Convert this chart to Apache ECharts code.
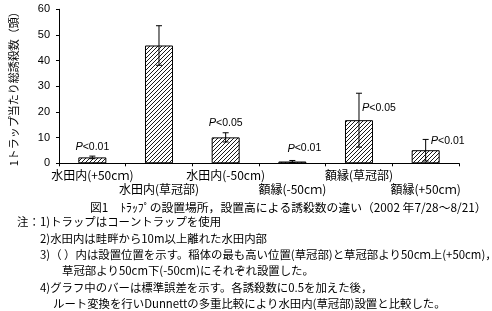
<!DOCTYPE html>
<html><head><meta charset="utf-8">
<script src="https://cdn.jsdelivr.net/npm/echarts@6/dist/echarts.min.js"></script>
<style>html,body{margin:0;padding:0;background:#fff}#c{width:492px;height:311px}</style>
</head><body><div id="c"></div>
<script>
const categories = ['水田内(+50cｍ)', '水田内(草冠部)', '水田内(-50cm)', '額縁(-50cｍ)', '額縁(草冠部)', '額縁(+50cｍ)'];
const means = [2.3, 45.9, 10.1, 0.7, 16.8, 5.1];
const stdErrors = [0.5, 7.7, 1.8, 0.4, 10.5, 4.2];
const pLabels = ['<0.01', '', '<0.05', '<0.01', '<0.05', '<0.01'];
const yTicks = [0, 10, 20, 30, 40, 50, 60];
const yTitle = '1トラップ当たり総誘殺数（頭）';
const caption = '図1　ﾄﾗｯﾌﾟの設置場所，設置高による誘殺数の違い（2002 年7/28～8/21）';
const notes = [
  '1)トラップはコーントラップを使用',
  '2)水田内は畦畔から10m以上離れた水田内部',
  '3)（ ）内は設置位置を示す。稲体の最も高い位置(草冠部)と草冠部より50cｍ上(+50cm)，',
  '草冠部より50cm下(-50cm)にそれぞれ設置した。',
  '4)グラフ中のバーは標準誤差を示す。各誘殺数に0.5を加えた後，',
  'ルート変換を行いDunnettの多重比較により水田内(草冠部)設置と比較した。'
];

// hatch pattern
const pc = document.createElement('canvas');
pc.width = 4; pc.height = 4;
const g = pc.getContext('2d');
g.fillStyle = '#fff'; g.fillRect(0, 0, 4, 4);
g.strokeStyle = '#000'; g.lineWidth = 0.9;
g.beginPath();
g.moveTo(-1, 5); g.lineTo(5, -1);
g.moveTo(-1, 1); g.lineTo(1, -1);
g.moveTo(3, 5); g.lineTo(5, 3);
g.stroke();

const CJK = "'Noto Sans CJK JP', sans-serif";
const LAT = "'Liberation Sans', Arial, sans-serif";
const chart = echarts.init(document.getElementById('c'), null, {renderer: 'canvas'});

// label placement (pixel offsets relative to top of error bar)
const labelPlace = [
  {dx: 0, dy: -9, align: 'center'},
  null,
  {dx: 0, dy: -10, align: 'center'},
  {dx: 12, dy: -12, align: 'center'},
  {dx: 3, dy: 15, align: 'left'},
  {dx: 5, dy: 2, align: 'left'}
];

const noteX = [40, 40, 40, 62, 40, 53];
const noteY = [221.7, 238.3, 255, 271, 287.7, 304];
const TF = '11.4px ' + CJK;
const graphics = [
  {type: 'text', style: {x: 90, y: 208, text: caption, font: '11.8px ' + CJK, fill: '#000', verticalAlign: 'middle'}},
  {type: 'text', style: {x: 17, y: noteY[0], text: '注：', font: TF, fill: '#000', verticalAlign: 'middle'}}
];
notes.forEach((t, i) => graphics.push({type: 'text', style: {x: noteX[i], y: noteY[i], text: t, font: TF, fill: '#000', verticalAlign: 'middle'}}));

chart.setOption({
  animation: false,
  backgroundColor: '#fff',
  grid: {left: 53, right: 33, top: 9.3, bottom: 147.7, containLabel: false},
  xAxis: {
    type: 'category', data: categories,
    axisLine: {lineStyle: {color: '#000', width: 1}},
    axisTick: {show: true, length: 3, lineStyle: {color: '#000'}},
    axisLabel: {
      interval: 0, margin: 5, color: '#000', fontFamily: CJK, fontSize: 12, lineHeight: 14,
      formatter: (v, i) => (i % 2 ? '\n' + v : v)
    }
  },
  yAxis: {
    type: 'value', min: 0, max: 60, interval: 10,
    name: yTitle, nameLocation: 'middle', nameRotate: 90, nameGap: 40,
    nameTextStyle: {fontFamily: CJK, fontSize: 11, color: '#000'},
    axisLine: {show: true, lineStyle: {color: '#000', width: 1}},
    axisTick: {show: true, length: 3, lineStyle: {color: '#000'}},
    axisLabel: {color: '#000', fontFamily: LAT, fontSize: 11, margin: 9,
      formatter: v => (yTicks.indexOf(v) >= 0 ? String(v) : '')},
    splitLine: {show: false}
  },
  series: [
    {
      type: 'bar', data: means, barWidth: '42%',
      itemStyle: {color: {image: pc, repeat: 'repeat'}, borderColor: '#000', borderWidth: 1},
      silent: true
    },
    {
      type: 'custom', silent: true,
      data: means.map((m, i) => [i, m, stdErrors[i]]),
      renderItem: (params, api) => {
        const i = api.value(0), m = api.value(1), e = api.value(2);
        const top = api.coord([i, m + e]);
        const bot = api.coord([i, Math.max(0, m - e)]);
        const hw = 3;
        const st = {stroke: '#000', lineWidth: 1};
        return {type: 'group', children: [
          {type: 'line', shape: {x1: top[0], y1: top[1], x2: bot[0], y2: bot[1]}, style: st},
          {type: 'line', shape: {x1: top[0] - hw, y1: top[1], x2: top[0] + hw, y2: top[1]}, style: st},
          {type: 'line', shape: {x1: bot[0] - hw, y1: bot[1], x2: bot[0] + hw, y2: bot[1]}, style: st}
        ]};
      },
      z: 5
    },
    {
      type: 'custom', silent: true,
      data: means.map((m, i) => [i, m + stdErrors[i]]),
      renderItem: (params, api) => {
        const i = api.value(0);
        const p = labelPlace[i];
        if (!p || !pLabels[i]) return null;
        const pt = api.coord([i, api.value(1)]);
        return {type: 'text', style: {
          x: pt[0] + p.dx, y: pt[1] + p.dy,
          text: '{p|P}{t|' + pLabels[i] + '}',
          rich: {
            p: {fontStyle: 'italic', fontFamily: LAT, fontSize: 11, fill: '#000'},
            t: {fontFamily: LAT, fontSize: 10.5, fill: '#000'}
          },
          align: p.align, verticalAlign: 'middle', fill: '#000'
        }};
      },
      z: 6
    }
  ],
  graphic: graphics
});
</script></body></html>
